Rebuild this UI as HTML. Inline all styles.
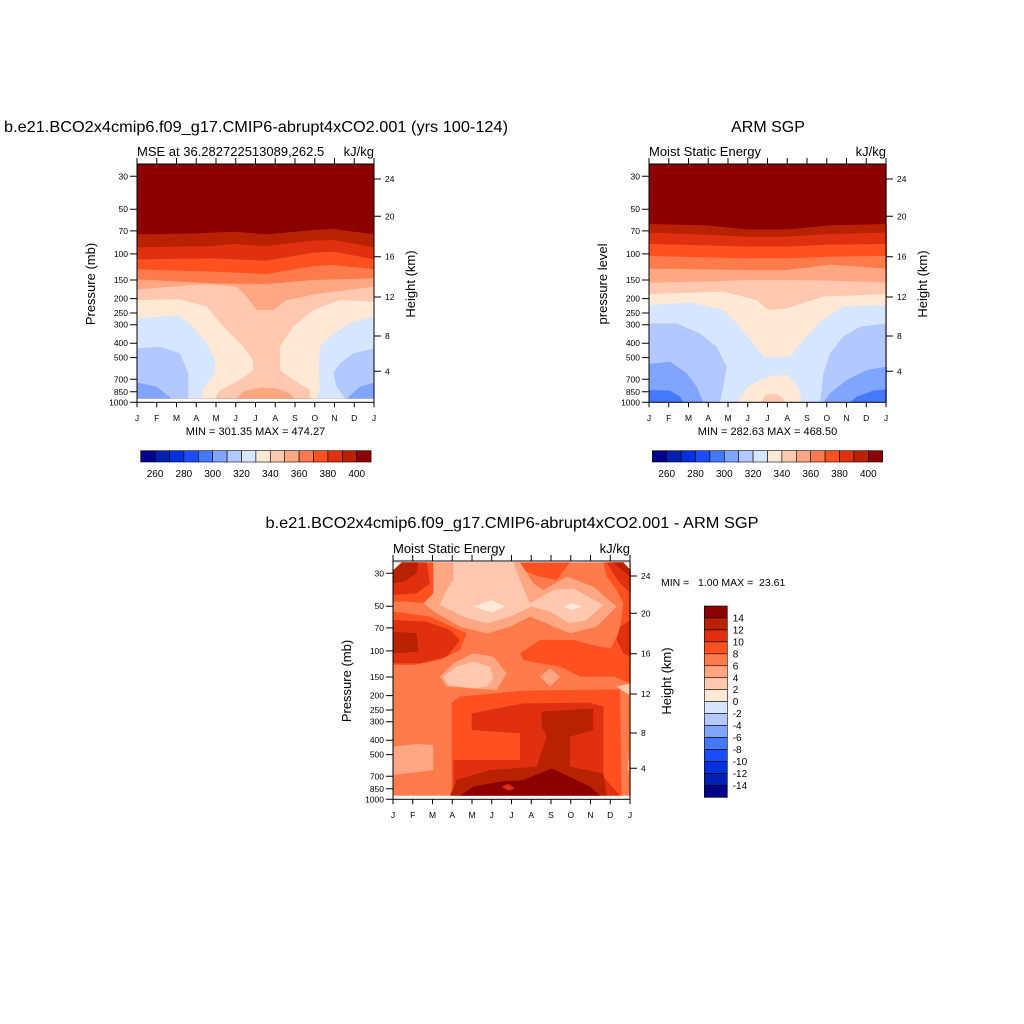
<!DOCTYPE html>
<html><head><meta charset="utf-8"><style>
html,body{margin:0;padding:0;background:#fff}
svg{display:block;font-family:"Liberation Sans",Arial,sans-serif}
</style></head><body>
<svg width="1024" height="1024" viewBox="0 0 1024 1024" xmlns="http://www.w3.org/2000/svg">
<rect width="1024" height="1024" fill="#fff"/>
<defs>
<g id="ax">
  <rect x="0" y="0" width="237" height="238.3" fill="none" stroke="#000" stroke-width="1"/>
  <g stroke="#000" stroke-width="1">
    <path d="M0,12.3h-7M0,45.2h-7M0,66.9h-7M0,89.9h-7M0,116h-7M0,134.6h-7M0,149h-7M0,160.7h-7M0,179.2h-7M0,193.6h-7M0,215.3h-7M0,227.8h-7M0,238.3h-7"/>
    <path d="M237,15h7M237,52.3h7M237,92.7h7M237,133h7M237,172h7M237,207.3h7"/>
    <path d="M0,238.3v5M19.75,238.3v5M39.5,238.3v5M59.25,238.3v5M79,238.3v5M98.75,238.3v5M118.5,238.3v5M138.25,238.3v5M158,238.3v5M177.75,238.3v5M197.5,238.3v5M217.25,238.3v5M237,238.3v5"/>
    <path d="M0,0v-6M19.75,0v-6M39.5,0v-6M59.25,0v-6M79,0v-6M98.75,0v-6M118.5,0v-6M138.25,0v-6M158,0v-6M177.75,0v-6M197.5,0v-6M217.25,0v-6M237,0v-6"/>
  </g>
  <g font-size="8.5" text-anchor="end">
    <text x="-9" y="15.3">30</text><text x="-9" y="48.2">50</text><text x="-9" y="69.9">70</text><text x="-9" y="92.9">100</text><text x="-9" y="119">150</text><text x="-9" y="137.6">200</text><text x="-9" y="152">250</text><text x="-9" y="163.7">300</text><text x="-9" y="182.2">400</text><text x="-9" y="196.6">500</text><text x="-9" y="218.3">700</text><text x="-9" y="230.8">850</text><text x="-9" y="241.3">1000</text>
  </g>
  <g font-size="8.5">
    <text x="248" y="18">24</text><text x="248" y="55.3">20</text><text x="248" y="95.7">16</text><text x="248" y="136">12</text><text x="248" y="175">8</text><text x="248" y="210.3">4</text>
  </g>
  <g font-size="8.5" text-anchor="middle">
    <text x="0" y="257">J</text><text x="19.75" y="257">F</text><text x="39.5" y="257">M</text><text x="59.25" y="257">A</text><text x="79" y="257">M</text><text x="98.75" y="257">J</text><text x="118.5" y="257">J</text><text x="138.25" y="257">A</text><text x="158" y="257">S</text><text x="177.75" y="257">O</text><text x="197.5" y="257">N</text><text x="217.25" y="257">D</text><text x="237" y="257">J</text>
  </g>
  <text transform="translate(278,120) rotate(-90)" font-size="13" text-anchor="middle">Height (km)</text>
</g>
</defs>

<!-- Titles -->
<text x="256" y="132" font-size="16" text-anchor="middle" textLength="504" lengthAdjust="spacingAndGlyphs">b.e21.BCO2x4cmip6.f09_g17.CMIP6-abrupt4xCO2.001 (yrs 100-124)</text>
<text x="768" y="132" font-size="16" text-anchor="middle">ARM SGP</text>
<text x="512" y="528" font-size="16" text-anchor="middle" textLength="493" lengthAdjust="spacingAndGlyphs">b.e21.BCO2x4cmip6.f09_g17.CMIP6-abrupt4xCO2.001 - ARM SGP</text>

<!-- PANEL 1 fills -->
<g transform="translate(80,140) scale(0.33333)">
<rect x="172" y="73" width="711" height="703" fill="#8b0000"/>
<polygon fill="#b82200" points="172,283 350,280 460,275 560,283 700,270 760,267 883,283 883,776 172,776"/>
<polygon fill="#e03010" points="172,322 400,318 460,312 560,318 700,302 760,300 883,322 883,776 172,776"/>
<polygon fill="#ff5020" points="172,358 400,355 560,362 700,338 760,335 883,358 883,776 172,776"/>
<polygon fill="#ff7b4c" points="172,388 400,395 560,402 700,378 760,375 883,388 883,776 172,776"/>
<polygon fill="#ffa783" points="172,418 400,430 560,432 700,420 883,415 883,776 172,776"/>
<polygon fill="#ffc8af" points="172,448 380,432 470,440 500,470 530,510 580,510 620,480 720,460 883,440 883,776 172,776"/>
<polygon fill="#ffe8d6" points="172,480 300,478 380,500 430,560 490,620 518,660 520,690 480,720 420,750 405,776 172,776"/>
<polygon fill="#ffe8d6" points="883,485 780,480 700,510 640,560 600,620 600,690 640,720 690,750 690,776 883,776"/>
<polygon fill="#d6e6ff" points="172,535 290,525 330,550 380,610 405,660 405,700 370,745 365,776 172,776"/>
<polygon fill="#d6e6ff" points="883,530 820,545 760,580 720,620 715,680 720,740 710,776 883,776"/>
<polygon fill="#b2c8ff" points="172,625 240,620 300,640 325,700 325,776 172,776"/>
<polygon fill="#b2c8ff" points="883,625 820,640 780,670 760,700 770,740 795,776 883,776"/>
<polygon fill="#7fa5ff" points="172,728 230,740 275,776 172,776"/>
<polygon fill="#7fa5ff" points="883,728 840,740 800,776 883,776"/>
<polygon fill="#ffa783" points="470,776 490,755 540,742 590,745 630,760 645,776"/>
</g>
<g transform="translate(137,164)"><use href="#ax"/>
<text transform="translate(-42,120) rotate(-90)" font-size="13" text-anchor="middle">Pressure (mb)</text>
<text x="0" y="-8" font-size="13">MSE at 36.282722513089,262.5</text>
<text x="237" y="-8" font-size="13" text-anchor="end">kJ/kg</text>
<text x="118.5" y="271" font-size="11" text-anchor="middle">MIN = 301.35 MAX = 474.27</text>
</g>

<!-- PANEL 2 fills -->
<g transform="translate(590,140) scale(0.33333)">
<rect x="178" y="73" width="712" height="714" fill="#8b0000"/>
<polygon fill="#b82200" points="178,252 350,256 470,268 590,268 720,256 890,252 890,787 178,787"/>
<polygon fill="#e03010" points="178,278 350,284 470,290 590,290 720,282 890,278 890,787 178,787"/>
<polygon fill="#ff5020" points="178,312 350,316 470,320 590,320 720,314 890,312 890,787 178,787"/>
<polygon fill="#ff7b4c" points="178,348 350,352 470,355 590,355 720,350 890,348 890,787 178,787"/>
<polygon fill="#ffa783" points="178,386 350,388 470,390 590,390 720,374 890,386 890,787 178,787"/>
<polygon fill="#ffc8af" points="178,428 350,425 470,420 590,420 720,422 890,428 890,787 178,787"/>
<polygon fill="#ffe8d6" points="178,462 400,455 500,480 535,510 590,505 700,470 890,462 890,787 178,787"/>
<polygon fill="#d6e6ff" points="178,495 300,488 400,510 440,550 490,610 520,650 600,650 640,600 690,545 760,500 890,495 890,787 178,787"/>
<polygon fill="#b2c8ff" points="178,550 260,550 330,580 380,620 410,680 400,740 390,787 178,787"/>
<polygon fill="#b2c8ff" points="890,550 810,560 760,590 720,640 700,700 690,787 890,787"/>
<polygon fill="#7fa5ff" points="178,672 240,665 290,700 320,740 340,787 178,787"/>
<polygon fill="#7fa5ff" points="890,680 830,690 770,720 720,760 700,787 890,787"/>
<polygon fill="#4478ff" points="178,750 240,752 270,770 280,787 178,787"/>
<polygon fill="#4478ff" points="890,748 850,752 800,770 780,787 890,787"/>
<polygon fill="#ffe8d6" points="445,787 450,770 480,735 540,708 590,705 625,740 635,787"/>
<polygon fill="#ffc8af" points="515,787 525,765 560,762 580,775 580,787"/>
</g>
<g transform="translate(649,164)"><use href="#ax"/>
<text transform="translate(-42,120) rotate(-90)" font-size="13" text-anchor="middle">pressure level</text>
<text x="0" y="-8" font-size="13">Moist Static Energy</text>
<text x="237" y="-8" font-size="13" text-anchor="end">kJ/kg</text>
<text x="118.5" y="271" font-size="11" text-anchor="middle">MIN = 282.63 MAX = 468.50</text>
</g>

<!-- PANEL 3 fills -->
<g transform="translate(340,540) scale(0.33333)">
<rect x="160" y="67" width="712" height="700" fill="#ff7b4c"/>
<polygon fill="#ff5020" points="160,67 300,67 290,160 260,190 200,185 160,185"/>
<polygon fill="#ff5020" points="160,215 270,230 380,280 360,330 300,360 220,375 160,375"/>
<polygon fill="#ff5020" points="520,67 690,67 650,120 600,110 560,95"/>
<polygon fill="#ff5020" points="790,67 872,67 872,430 820,410 720,410 800,350 840,270 850,190 830,150 800,110"/>
<polygon fill="#ff5020" points="540,340 600,300 700,300 780,320 840,330 840,380 720,410 660,380 600,370 550,360"/>
<polygon fill="#e03010" points="160,67 260,67 270,130 230,160 160,165"/>
<polygon fill="#b82200" points="175,67 235,67 230,100 190,125 160,130 160,85"/>
<polygon fill="#e03010" points="800,67 872,67 872,160 840,130 820,100"/>
<polygon fill="#b82200" points="820,67 860,67 872,85 872,110 850,95"/>
<polygon fill="#e03010" points="160,240 260,245 330,270 360,300 320,350 240,370 160,370"/>
<polygon fill="#b82200" points="160,275 230,280 235,335 160,340"/>
<polygon fill="#e03010" points="872,240 840,260 830,300 850,340 872,350"/>
<polygon fill="#ffa783" points="280,67 540,67 580,130 610,150 680,110 760,140 830,200 770,260 690,280 620,250 570,230 510,260 440,280 360,260 290,220 250,190 280,160"/>
<polygon fill="#ffc8af" points="340,67 520,67 540,120 570,190 640,150 700,145 790,195 740,240 690,250 630,215 575,200 510,230 440,250 370,230 300,195 320,150 340,120"/>
<polygon fill="#ffe8d6" points="400,200 455,180 495,200 455,217"/>
<polygon fill="#ffe8d6" points="670,200 697,190 725,200 697,210"/>
<polygon fill="#ffa783" points="300,410 340,370 400,340 460,350 500,400 470,450 400,445 320,440"/>
<polygon fill="#ffc8af" points="310,410 350,380 400,365 450,380 460,415 440,440 400,445 325,435"/>
<polygon fill="#ffa783" points="600,410 630,385 660,410 630,440"/>
<polygon fill="#ffc8af" points="830,440 872,430 872,465 860,460"/>
<polygon fill="#ff5020" points="335,767 335,490 345,480 360,470 550,452 840,448 845,767"/>
<polygon fill="#e03010" points="395,520 550,490 750,488 790,500 790,710 840,767 340,767 340,660 540,660 540,580 395,570"/>
<polygon fill="#b82200" points="605,515 760,505 760,570 690,590 690,680 790,700 800,767 330,767 350,720 450,690 590,680 620,590 605,560"/>
<polygon fill="#8b0000" points="360,767 400,740 480,725 550,720 635,685 750,740 780,767"/>
<polygon fill="#e03010" points="485,740 505,732 525,745 505,752"/>
<polygon fill="#ffa783" points="160,620 230,612 280,615 280,690 200,700 160,705"/>
<polygon fill="#ffa783" points="865,660 872,655 872,700 862,690"/>
<polygon fill="#ffffff" points="160,67 185,67 160,90"/>
<polygon fill="#ffffff" points="850,67 872,67 872,90"/>
</g>
<g transform="translate(393,561)"><use href="#ax"/>
<text transform="translate(-42,120) rotate(-90)" font-size="13" text-anchor="middle">Pressure (mb)</text>
<text x="0" y="-8" font-size="13">Moist Static Energy</text>
<text x="237" y="-8" font-size="13" text-anchor="end">kJ/kg</text>
</g>
<text x="661" y="586" font-size="10.5" xml:space="preserve">MIN =   1.00 MAX =  23.61</text>

<!-- Colorbar 1 -->
<g stroke="#000" stroke-width="0.6">
<rect x="140.7" y="450.7" width="14.4" height="11.3" fill="#00008b"/>
<rect x="155.1" y="450.7" width="14.4" height="11.3" fill="#0020b0"/>
<rect x="169.5" y="450.7" width="14.4" height="11.3" fill="#0030e0"/>
<rect x="183.9" y="450.7" width="14.4" height="11.3" fill="#1c4cff"/>
<rect x="198.3" y="450.7" width="14.4" height="11.3" fill="#4478ff"/>
<rect x="212.7" y="450.7" width="14.4" height="11.3" fill="#7fa5ff"/>
<rect x="227.1" y="450.7" width="14.4" height="11.3" fill="#b2c8ff"/>
<rect x="241.5" y="450.7" width="14.4" height="11.3" fill="#d6e6ff"/>
<rect x="255.9" y="450.7" width="14.4" height="11.3" fill="#ffe8d6"/>
<rect x="270.3" y="450.7" width="14.4" height="11.3" fill="#ffc8af"/>
<rect x="284.7" y="450.7" width="14.4" height="11.3" fill="#ffa783"/>
<rect x="299.1" y="450.7" width="14.4" height="11.3" fill="#ff7b4c"/>
<rect x="313.5" y="450.7" width="14.4" height="11.3" fill="#ff5020"/>
<rect x="327.9" y="450.7" width="14.4" height="11.3" fill="#e03010"/>
<rect x="342.3" y="450.7" width="14.4" height="11.3" fill="#b82200"/>
<rect x="356.7" y="450.7" width="14.4" height="11.3" fill="#8b0000"/>
</g>
<g font-size="10" text-anchor="middle">
<text x="155.1" y="477">260</text><text x="183.9" y="477">280</text><text x="212.7" y="477">300</text><text x="241.5" y="477">320</text><text x="270.3" y="477">340</text><text x="299.1" y="477">360</text><text x="327.9" y="477">380</text><text x="356.7" y="477">400</text>
</g>
<!-- Colorbar 2 -->
<g transform="translate(511.6,0)">
<g stroke="#000" stroke-width="0.6">
<rect x="140.7" y="450.7" width="14.4" height="11.3" fill="#00008b"/>
<rect x="155.1" y="450.7" width="14.4" height="11.3" fill="#0020b0"/>
<rect x="169.5" y="450.7" width="14.4" height="11.3" fill="#0030e0"/>
<rect x="183.9" y="450.7" width="14.4" height="11.3" fill="#1c4cff"/>
<rect x="198.3" y="450.7" width="14.4" height="11.3" fill="#4478ff"/>
<rect x="212.7" y="450.7" width="14.4" height="11.3" fill="#7fa5ff"/>
<rect x="227.1" y="450.7" width="14.4" height="11.3" fill="#b2c8ff"/>
<rect x="241.5" y="450.7" width="14.4" height="11.3" fill="#d6e6ff"/>
<rect x="255.9" y="450.7" width="14.4" height="11.3" fill="#ffe8d6"/>
<rect x="270.3" y="450.7" width="14.4" height="11.3" fill="#ffc8af"/>
<rect x="284.7" y="450.7" width="14.4" height="11.3" fill="#ffa783"/>
<rect x="299.1" y="450.7" width="14.4" height="11.3" fill="#ff7b4c"/>
<rect x="313.5" y="450.7" width="14.4" height="11.3" fill="#ff5020"/>
<rect x="327.9" y="450.7" width="14.4" height="11.3" fill="#e03010"/>
<rect x="342.3" y="450.7" width="14.4" height="11.3" fill="#b82200"/>
<rect x="356.7" y="450.7" width="14.4" height="11.3" fill="#8b0000"/>
</g>
<g font-size="10" text-anchor="middle">
<text x="155.1" y="477">260</text><text x="183.9" y="477">280</text><text x="212.7" y="477">300</text><text x="241.5" y="477">320</text><text x="270.3" y="477">340</text><text x="299.1" y="477">360</text><text x="327.9" y="477">380</text><text x="356.7" y="477">400</text>
</g>
</g>
<!-- Colorbar 3 vertical -->
<g stroke="#000" stroke-width="0.6">
<rect x="704.3" y="606" width="23" height="11.96" fill="#8b0000"/>
<rect x="704.3" y="617.96" width="23" height="11.96" fill="#b82200"/>
<rect x="704.3" y="629.92" width="23" height="11.96" fill="#e03010"/>
<rect x="704.3" y="641.88" width="23" height="11.96" fill="#ff5020"/>
<rect x="704.3" y="653.84" width="23" height="11.96" fill="#ff7b4c"/>
<rect x="704.3" y="665.8" width="23" height="11.96" fill="#ffa783"/>
<rect x="704.3" y="677.76" width="23" height="11.96" fill="#ffc8af"/>
<rect x="704.3" y="689.72" width="23" height="11.96" fill="#ffe8d6"/>
<rect x="704.3" y="701.68" width="23" height="11.96" fill="#d6e6ff"/>
<rect x="704.3" y="713.64" width="23" height="11.96" fill="#b2c8ff"/>
<rect x="704.3" y="725.6" width="23" height="11.96" fill="#7fa5ff"/>
<rect x="704.3" y="737.56" width="23" height="11.96" fill="#4478ff"/>
<rect x="704.3" y="749.52" width="23" height="11.96" fill="#1c4cff"/>
<rect x="704.3" y="761.48" width="23" height="11.96" fill="#0030e0"/>
<rect x="704.3" y="773.44" width="23" height="11.96" fill="#0020b0"/>
<rect x="704.3" y="785.4" width="23" height="11.96" fill="#00008b"/>
</g>
<g font-size="10">
<text x="732.7" y="621.5">14</text><text x="732.7" y="633.5">12</text><text x="732.7" y="645.4">10</text><text x="732.7" y="657.4">8</text><text x="732.7" y="669.3">6</text><text x="732.7" y="681.3">4</text><text x="732.7" y="693.2">2</text><text x="732.7" y="705.2">0</text><text x="732.7" y="717.2">-2</text><text x="732.7" y="729.1">-4</text><text x="732.7" y="741.1">-6</text><text x="732.7" y="753">-8</text><text x="732.7" y="765">-10</text><text x="732.7" y="776.9">-12</text><text x="732.7" y="788.9">-14</text>
</g>
</svg>
</body></html>
